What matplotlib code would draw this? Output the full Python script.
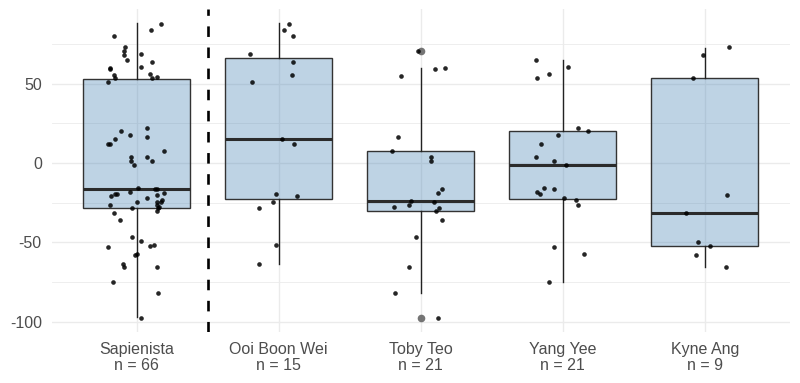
import matplotlib
matplotlib.use("Agg")
import matplotlib.pyplot as plt

plt.rcParams['font.family'] = ['Liberation Sans', 'DejaVu Sans']

# group names
groups = ["Sapienista", "Ooi Boon Wei", "Toby Teo", "Yang Yee", "Kyne Ang"]

# values and horizontal jitter of each point
sap_vals = [87.8, 83.5, 79.9, 73.0, 70.5, 67.9, 65.0, 68.6, 63.7, 60.5, 59.9, 58.9,
            56.3, 54.4, 53.6, 55.1, 53.4, 51.3, 21.9, 20.3, 17.7, 16.2, 15.0, 12.0,
            12.0, 7.6, 3.8, 3.6, 1.1, 1.3, -1.1, -16.0, -18.1, -16.7, -16.7, -20.9,
            -19.8, -19.8, -19.2, -20.5, -22.4, -24.5, -26.4, -23.4, -24.5, -24.9,
            -26.6, -27.6, -28.1, -28.7, -30.4, -31.4, -36.1, -46.8, -49.4, -51.5,
            -52.5, -53.2, -57.6, -57.8, -63.7, -65.6, -65.6, -74.9, -81.8, -97.5]
sap_jit = [0.17, 0.10, -0.16, -0.08, -0.09, -0.09, -0.07, 0.03, 0.11, 0.03, -0.19, -0.19,
           0.09, 0.14, 0.11, -0.16, -0.15, -0.20, 0.07, -0.11, -0.05, 0.07, -0.15, -0.20,
           -0.19, 0.19, -0.04, 0.07, -0.04, 0.11, -0.02, 0.01, -0.05, 0.13, 0.14, -0.18,
           -0.15, -0.14, 0.19, 0.14, 0.07, 0.00, -0.19, 0.18, 0.17, 0.14,
           0.14, 0.16, 0.15, -0.03, 0.14, -0.16, -0.12, -0.03, 0.03, 0.12,
           0.09, -0.20, 0.00, -0.01, -0.10, -0.09, 0.14, -0.17, 0.15, 0.03]

ooi_vals = [87.8, 83.5, 79.9, 68.6, 63.7, 55.3, 51.3, 15.0, 11.8, -19.8, -20.9, -24.5,
            -28.7, -51.5, -63.7]
ooi_jit = [0.07, 0.04, 0.10, -0.20, 0.10, 0.09, -0.19, 0.02, 0.11, -0.02, 0.13, -0.04,
           -0.14, -0.02, -0.14]

toby_vals = [70.5, 58.9, 59.9, 54.6, 16.5, 7.6, 3.8, 1.1, -16.5, -19.2, -24.1, -26.2,
             -24.5, -27.8, -28.1, -30.2, -35.9, -46.8, -65.8, -81.8, -97.5]
toby_jit = [-0.02, 0.10, 0.17, -0.14, -0.16, -0.20, 0.07, 0.07, 0.15, 0.12, -0.07, -0.08,
            0.09, -0.19, 0.13, 0.11, 0.15, -0.03, -0.08, -0.18, 0.12]

yang_vals = [65.0, 60.5, 53.6, 56.1, 21.9, 20.0, 17.7, 12.0, 3.8, 1.1, -1.1, -15.8,
             -16.7, -18.1, -19.8, -22.4, -23.4, -26.4, -53.2, -57.4, -74.9]
yang_jit = [-0.19, 0.04, -0.18, -0.10, 0.11, 0.18, -0.03, -0.15, -0.19, -0.06, 0.02, -0.13,
            -0.06, -0.18, -0.16, 0.01, 0.09, 0.11, -0.06, 0.15, -0.10]

kyne_vals = [73.2, 67.9, 53.4, -20.5, -31.4, -49.6, -52.5, -57.8, -65.6]
kyne_jit = [0.17, -0.01, -0.08, 0.16, -0.13, -0.05, 0.04, -0.06, 0.15]

# box summary per group
q1 = [-28.7, -22.6, -30.4, -22.6, -52.5]
med = [-16.5, 15.0, -24.3, -1.1, -31.4]
q3 = [53.0, 66.0, 7.4, 20.0, 53.4]
whislo = [-97.0, -63.5, -81.8, -74.9, -65.6]
whishi = [88.0, 88.0, 59.9, 65.0, 72.6]
outliers = [[], [], [70.5, -97.5], [], []]

all_vals = [sap_vals, ooi_vals, toby_vals, yang_vals, kyne_vals]
all_jit = [sap_jit, ooi_jit, toby_jit, yang_jit, kyne_jit]

fig = plt.figure(figsize=(8, 3.83), dpi=100)
ax = fig.add_axes([0.0644, 0.132, 0.923, 0.845])

# grid
for y in [-100, -50, 0, 50]:
    ax.axhline(y, color='#EBEBEB', lw=1.0, zorder=0)
for y in [-75, -25, 25, 75]:
    ax.axhline(y, color='#EBEBEB', lw=0.6, zorder=0)
for i in range(len(groups)):
    ax.axvline(i + 1, color='#EBEBEB', lw=1.0, zorder=0)

stats = []
for i in range(len(groups)):
    stats.append(dict(q1=q1[i], med=med[i], q3=q3[i], whislo=whislo[i],
                      whishi=whishi[i], fliers=outliers[i]))

ax.bxp(stats, positions=range(1, len(groups) + 1), widths=0.75, patch_artist=True,
       showcaps=False, showfliers=True,
       boxprops=dict(facecolor=(0.275, 0.51, 0.706, 0.35), edgecolor='#333333', lw=1.0),
       medianprops=dict(color='#2b2b2b', lw=2.2),
       whiskerprops=dict(color='#222222', lw=1.0),
       flierprops=dict(marker='o', markerfacecolor='#666666', markeredgecolor='none',
                       markersize=5.5, alpha=0.9),
       zorder=2)

for i in range(len(groups)):
    xs = [i + 1 + j for j in all_jit[i]]
    ax.scatter(xs, all_vals[i], s=11, color='black', alpha=0.85, linewidths=0, zorder=3)

ax.axvline(1.5, color='black', lw=1.9, dashes=(4, 4), zorder=4)

ax.set_xlim(0.4, 5.6)
ax.set_ylim(-106.8, 97.1)
ax.set_yticks([-100, -50, 0, 50])
ax.set_yticklabels(['-100', '-50', '0', '50'])
ax.set_xticks(range(1, len(groups) + 1))
ax.set_xticklabels([f"{g}\nn = {len(v)}" for g, v in zip(groups, all_vals)],
                   linespacing=1.05)
ax.tick_params(axis='both', length=0, labelsize=11.5, labelcolor='#4D4D4D')
ax.tick_params(axis='x', pad=7)
ax.tick_params(axis='y', pad=7)
for s in ax.spines.values():
    s.set_visible(False)

fig.savefig('out.png', dpi=100)
